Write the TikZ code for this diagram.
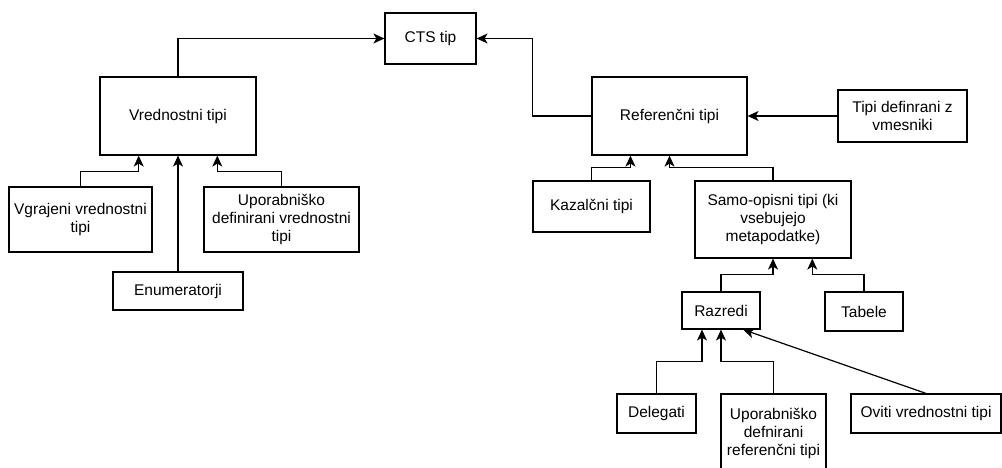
\documentclass[tikz,border=0pt]{standalone}
\usepackage{fontspec}
\setmainfont{Liberation Sans}
\usetikzlibrary{arrows.meta,calc}
\begin{document}
\begin{tikzpicture}[x=1pt,y=-1pt,line width=1.2pt]
\tikzset{tip box/.style={draw,rectangle,inner sep=0pt,align=center,font=\fontsize{15.5}{18}\selectfont},
         to tip/.style={-{Stealth[length=11pt,width=10pt,inset=3pt]}}}
\path[use as bounding box,clip] (0,0) rectangle (1002,468);
% vrednostni tipi
\node [tip box, minimum width=91, minimum height=51] (cts) at (430.5,38.5) {CTS tip};
\node [tip box, minimum width=156, minimum height=78] (vred) at (178,116) {Vrednostni tipi};
\node [tip box, minimum width=143, minimum height=65] (vgr) at (80.5,219.5) {Vgrajeni vrednostni\\tipi};
\node [tip box, minimum width=155, minimum height=65] (upv) at (281.5,219.5) {Uporabniško\\definirani vrednostni\\tipi};
\node [tip box, minimum width=130, minimum height=38] (enu) at (178,291) {Enumeratorji};
% referencni tipi
\node [tip box, minimum width=155, minimum height=78] (ref) at (669.5,116) {Referenčni tipi};
\node [tip box, minimum width=129, minimum height=52] (vme) at (902.5,116) {Tipi definrani z\\vmesniki};
\node [tip box, minimum width=117, minimum height=51] (kaz) at (591.5,206.5) {Kazalčni tipi};
\node [tip box, minimum width=156, minimum height=77] (samo) at (773,219.5) {Samo-opisni tipi (ki\\vsebujejo\\metapodatke)};
\node [tip box, minimum width=78, minimum height=37] (raz) at (721,310.5) {Razredi};
\node [tip box, minimum width=78, minimum height=39] (tab) at (864,311.5) {Tabele};
\node [tip box, minimum width=79, minimum height=39] (del) at (656.5,413.5) {Delegati};
\node [tip box, minimum width=105, minimum height=78] (upr) at (773.5,433) {Uporabniško\\defnirani\\referenčni tipi};
\node [tip box, minimum width=150, minimum height=39] (ovi) at (926,413.5) {Oviti vrednostni tipi};
\coordinate (v1) at ($(vred.south west)!.25!(vred.south east)$);
\coordinate (v2) at ($(vred.south west)!.75!(vred.south east)$);
\coordinate (r1) at ($(ref.south west)!.25!(ref.south east)$);
\coordinate (s2) at ($(samo.south west)!.75!(samo.south east)$);
\coordinate (z1) at ($(raz.south west)!.26!(raz.south east)$);
\coordinate (z2) at ($(raz.south west)!.78!(raz.south east)$);
\draw[to tip] (vred.north) |- (cts.west);
\draw[to tip] (ref.west) -- ++(-59,0) |- (cts.east);
\draw[to tip] (vgr.north) -- ++(0,-15) -| (v1);
\draw[to tip] (upv.north) -- ++(0,-15) -| (v2);
\draw[to tip] (enu.north) -- (vred.south);
\draw[to tip] (vme.west) -- (ref.east);
\draw[to tip] (kaz.north) -- ++(0,-13) -| (r1);
\draw[to tip] (samo.north) -- ++(0,-13) -| (ref.south);
\draw[to tip] (raz.north) -- ++(0,-17) -| (samo.south);
\draw[to tip] (tab.north) -- ++(0,-17) -| (s2);
\draw[to tip] (del.north) -- ++(0,-32) -| (z1);
\draw[to tip] (upr.north) -- ++(0,-32) -| (raz.south);
\draw[to tip] (ovi.north) -- (z2);
\end{tikzpicture}
\end{document}
